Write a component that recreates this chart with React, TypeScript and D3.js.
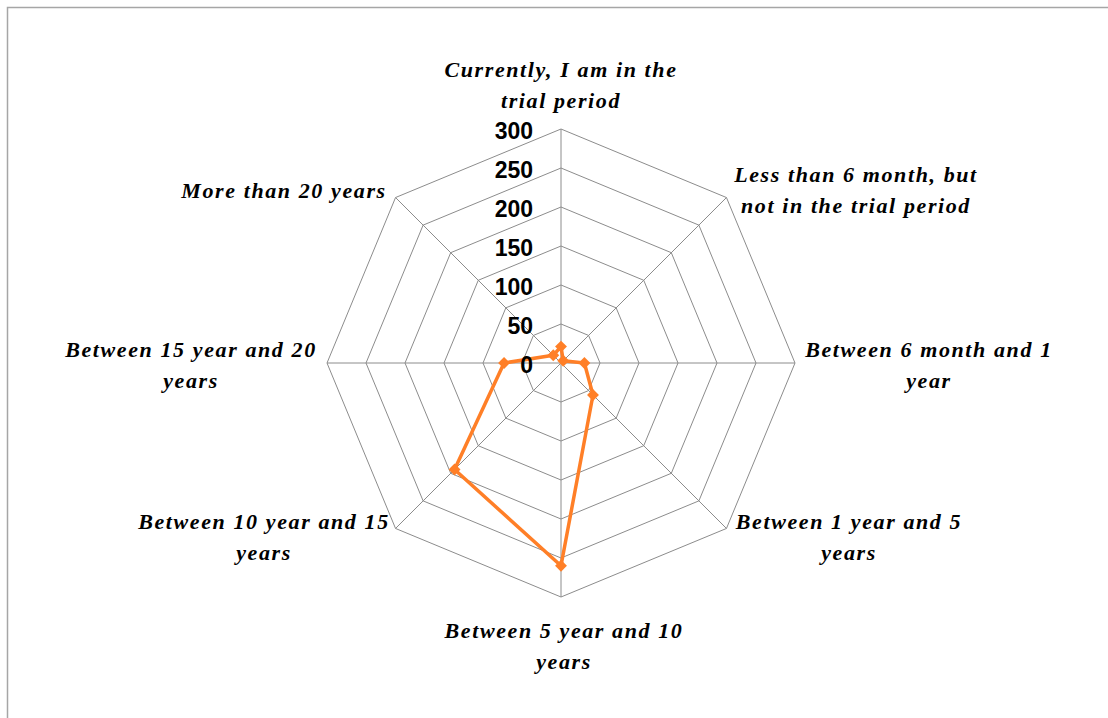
import React from "react";
import * as d3 from "d3";

const categories: string[][] = [
  ["Currently, I am in the", "trial period"],
  ["Less than 6 month, but", "not in the trial period"],
  ["Between 6 month and 1", "year"],
  ["Between 1 year and 5", "years"],
  ["Between 5 year and 10", "years"],
  ["Between 10 year and 15", "years"],
  ["Between 15 year and 20", "years"],
  ["More than 20 years"],
];
const values: number[] = [21, 4, 30, 58, 260, 193, 73, 14];
const tickValues: number[] = [0, 50, 100, 150, 200, 250, 300];

// label anchor centres (x, y of first line centre)
const labelPos: [number, number][] = [
  [561, 69],
  [856, 174],
  [929, 349],
  [849, 521],
  [564, 630],
  [264, 521],
  [191, 349],
  [284, 190],
];

export default function App() {
  const W = 1108, H = 718;
  const cx = 561, cy = 363, R = 234;
  const n = categories.length;
  const r = d3.scaleLinear().domain([0, 300]).range([0, R]);
  const ang = (i: number) => (i * 2 * Math.PI) / n;
  const pt = (i: number, v: number): [number, number] => [
    cx + r(v) * Math.sin(ang(i)),
    cy - r(v) * Math.cos(ang(i)),
  ];
  const ringLine = d3.line<[number, number]>().curve(d3.curveLinearClosed);
  const dataPts = values.map((v, i) => pt(i, v));
  const diamond = d3.symbol().type(d3.symbolDiamond2).size(90)();
  const labelFont = "'Liberation Serif', serif";
  return (
    <svg width={W} height={H} style={{ position: "absolute", left: 0, top: 0 }}>
      <rect x={0} y={0} width={W} height={H} fill="#fff" />
      <rect x={7.5} y={7.5} width={W + 10} height={H + 10} fill="none" stroke="#a6a6a6" strokeWidth={1.5} />
      {tickValues.slice(1).map((t) => (
        <path
          key={t}
          d={ringLine(d3.range(n).map((i) => pt(i, t))) || ""}
          fill="none"
          stroke="#8c8c8c"
          strokeWidth={1}
        />
      ))}
      {d3.range(n).map((i) => {
        const [x, y] = pt(i, 300);
        return <line key={i} x1={cx} y1={cy} x2={x} y2={y} stroke="#8c8c8c" strokeWidth={1} />;
      })}
      <path
        d={ringLine(dataPts) || ""}
        fill="none"
        stroke="#ff7f27"
        strokeWidth={3.5}
        strokeLinejoin="round"
      />
      {dataPts.map(([x, y], i) => (
        <path key={i} d={diamond || ""} transform={`translate(${x},${y})`} fill="#ff7f27" />
      ))}
      {tickValues.map((t) => (
        <text
          key={t}
          x={533}
          y={cy - r(t) + 2}
          textAnchor="end"
          dominantBaseline="central"
          fontFamily="'Liberation Sans', Arial, sans-serif"
          fontWeight="bold"
          fontSize={23}
          fill="#000"
        >
          {t}
        </text>
      ))}
      {categories.map((lines, i) => (
        <text
          key={i}
          fontFamily={labelFont}
          fontStyle="italic"
          fontWeight="bold"
          fontSize={22}
          letterSpacing={1.6}
          textAnchor="middle"
          fill="#000"
        >
          {lines.map((l, j) => (
            <tspan key={j} x={labelPos[i][0]} y={labelPos[i][1] + j * 31} dominantBaseline="central">
              {l}
            </tspan>
          ))}
        </text>
      ))}
    </svg>
  );
}
